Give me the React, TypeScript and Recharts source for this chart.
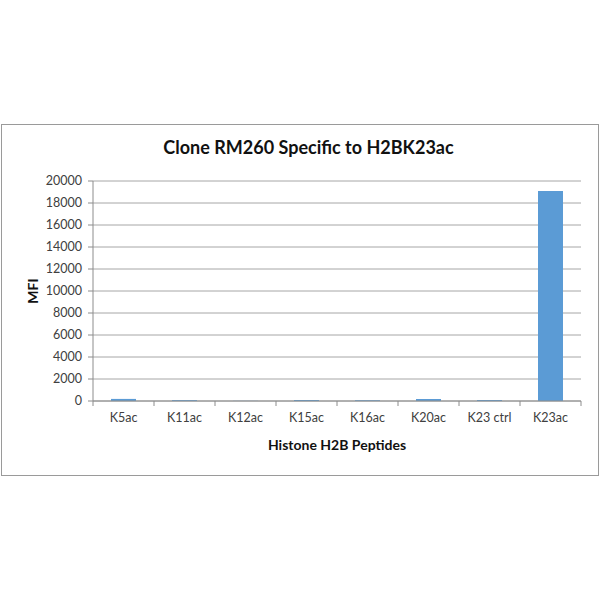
import { Bar, BarChart, CartesianGrid, XAxis, YAxis } from 'recharts'

const categories = ['K5ac', 'K11ac', 'K12ac', 'K15ac', 'K16ac', 'K20ac', 'K23 ctrl', 'K23ac']
const mfiValues = [190, 80, 15, 90, 70, 180, 90, 19100]
const yTicks = [0, 2000, 4000, 6000, 8000, 10000, 12000, 14000, 16000, 18000, 20000]

const data = categories.map((name, i) => ({ name, mfi: mfiValues[i] }))

const PLOT_LEFT = 93
const PLOT_RIGHT = 581
const PLOT_TOP = 181
const PLOT_BOTTOM = 401
const STEP = (PLOT_RIGHT - PLOT_LEFT) / categories.length

const font = 'Lato, "Open Sans", sans-serif'
const tickColor = '#404040'
const lineColor = '#8c8c8c'

function CategoryTick(props: any) {
  const { x, y, payload, index } = props
  const half = payload?.offset || STEP / 2
  const last = index === categories.length - 1
  return (
    <g>
      <line x1={x - half} x2={x - half} y1={y} y2={y + 5} stroke={lineColor} />
      {last && <line x1={x + half} x2={x + half} y1={y} y2={y + 5} stroke={lineColor} />}
      <text
        x={x}
        y={y + 21}
        textAnchor="middle"
        fill={tickColor}
        fontSize={12.5}
        fontFamily={font}
      >
        {payload.value}
      </text>
    </g>
  )
}

export default function App() {
  return (
    <div
      style={{
        position: 'absolute',
        left: 0,
        top: 0,
        width: 600,
        height: 600,
        background: '#fff',
        fontFamily: font,
      }}
    >
      <div
        style={{
          position: 'absolute',
          left: 1,
          top: 124,
          width: 596,
          height: 350,
          border: '1px solid #9a9a9a',
        }}
      />
      <div
        style={{
          position: 'absolute',
          left: 0,
          top: 136,
          width: 617,
          textAlign: 'center',
          fontSize: 18,
          fontWeight: 700,
          color: '#111',
        }}
      >
        Clone RM260 Specific to H2BK23ac
      </div>
      <div
        style={{
          position: 'absolute',
          left: 32,
          top: 291,
          transform: 'translate(-50%, -50%) rotate(-90deg)',
          fontSize: 14,
          fontWeight: 700,
          color: '#111',
          whiteSpace: 'nowrap',
        }}
      >
        MFI
      </div>
      <div
        style={{
          position: 'absolute',
          left: 0,
          top: 436,
          width: PLOT_LEFT + PLOT_RIGHT,
          textAlign: 'center',
          fontSize: 14,
          fontWeight: 700,
          color: '#111',
        }}
      >
        Histone H2B Peptides
      </div>
      <div style={{ position: 'absolute', left: 0, top: 0 }}>
        <BarChart
          width={600}
          height={600}
          data={data}
          margin={{ top: PLOT_TOP, right: 600 - PLOT_RIGHT, bottom: 0, left: 0 }}
          barSize={25}
        >
          <CartesianGrid vertical={false} stroke="#a6a6a6" />
          <XAxis
            dataKey="name"
            stroke={lineColor}
            tickLine={false}
            tickSize={0}
            tickMargin={0}
            interval={0}
            tick={<CategoryTick />}
            height={600 - PLOT_BOTTOM}
          />
          <YAxis
            width={PLOT_LEFT}
            domain={[0, 20000]}
            ticks={yTicks}
            interval={0}
            stroke={lineColor}
            tickSize={5}
            tickMargin={6}
            tick={{ fill: tickColor, fontSize: 12.5, fontFamily: font }}
          />
          <Bar dataKey="mfi" fill="#5b9bd5" isAnimationActive={false} />
        </BarChart>
      </div>
    </div>
  )
}
